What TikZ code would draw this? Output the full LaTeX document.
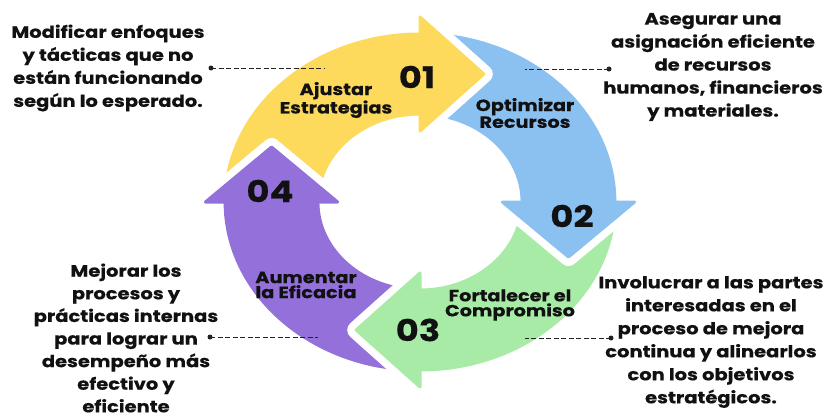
\documentclass[tikz,border=0pt]{standalone}
\usepackage{fontspec}
\setmainfont{Poppins}[FakeStretch=1.18, BoldFeatures={FakeBold=0.35}]
\definecolor{cyellow}{HTML}{FDD95C}
\definecolor{cblue}{HTML}{8BC1F1}
\definecolor{cgreen}{HTML}{A8EBA6}
\definecolor{cpurple}{HTML}{9470DA}
\definecolor{txt}{HTML}{111111}
\definecolor{lnc}{HTML}{222222}
\begin{document}
\begin{tikzpicture}[x=1pt,y=-1pt,
  side/.style={font=\fontsize{16.5}{23}\selectfont\bfseries, align=center, text=txt, inner sep=0pt},
  lab/.style={font=\fontsize{16.3}{15}\selectfont\bfseries, align=center, text=txt, inner sep=0pt},
  num/.style={font=\fontsize{30}{30}\selectfont\bfseries, text=txt, inner sep=0pt},
  conn/.style={draw=lnc, line width=1pt, dash pattern=on 5pt off 2.5pt},
  dotn/.style={circle, fill=lnc, inner sep=0pt, minimum size=5pt},
  arr/.style={fill=#1, draw=#1, line width=3pt, line join=round,
    preaction={draw=white, line width=18pt, line join=round}}
]
\useasboundingbox (0,0) rectangle (828,418);
\fill[white] (0,0) rectangle (828,418);

\begin{scope}[shift={(420,202)}, xscale=1.16, yscale=-1]
  % yellow
  \path[arr=cyellow] (180:168) arc[start angle=180, end angle=90, radius=168]
    -- (0,185) -- (55,128) -- (0,71) -- (90:88)
    arc[start angle=90, end angle=180, radius=88] -- cycle;
  % purple
  \path[arr=cpurple] (-90:168) arc[start angle=-90, end angle=-180, radius=168]
    -- (-185,0) -- (-128,55) -- (-71,0) -- (180:88)
    arc[start angle=180, end angle=270, radius=88] -- cycle;
  % green
  \path[arr=cgreen] (0:168) arc[start angle=0, end angle=-90, radius=168]
    -- (0,-185) -- (-55,-128) -- (0,-71) -- (-90:88)
    arc[start angle=-90, end angle=0, radius=88] -- cycle;
  % blue
  \path[arr=cblue] (90:168) arc[start angle=90, end angle=0, radius=168]
    -- (185,0) -- (128,-55) -- (71,0) -- (0:88)
    arc[start angle=0, end angle=90, radius=88] -- cycle;
  % yellow head again, above blue tail
  \begin{scope}
    \clip (-20,40) rectangle (90,210);
    \path[arr=cyellow] (180:168) arc[start angle=180, end angle=90, radius=168]
      -- (0,185) -- (55,128) -- (0,71) -- (90:88)
      arc[start angle=90, end angle=180, radius=88] -- cycle;
  \end{scope}
\end{scope}

% labels in arrows
\node[lab] (l1) at (336,100) {Ajustar\\Estrategias};
\node[lab] (l2) at (525,113) {Optimizar\\Recursos};
\node[lab] (l3) at (510,305) {Fortalecer el\\Compromiso};
\node[lab] (l4) at (306,285) {Aumentar\\la Eficacia};
\node[num] (n1) at (417,77) {01};
\node[num] (n2) at (572,216) {02};
\node[num] (n3) at (418,330) {03};
\node[num] (n4) at (270,191) {04};

% side texts
\node[side] (t1) at (108,68) {Modificar enfoques\\y tácticas que no\\están funcionando\\según lo esperado.};
\node[side] (t2) at (713,67) {Asegurar una\\asignación eficiente\\de recursos\\humanos, financieros\\y materiales.};
\node[side, font=\fontsize{16.5}{22.6}\selectfont\bfseries] (t3) at (126,338) {Mejorar los\\procesos y\\prácticas internas\\para lograr un\\desempeño más\\efectivo y\\eficiente};
\node[side] (t4) at (711,342) {Involucrar a las partes\\interesadas en el\\proceso de mejora\\continua y alinearlos\\con los objetivos\\estratégicos.};

% connectors
\node[dotn] (d1) at (211,68) {};
\coordinate (e1) at (325,68);
\node[dotn] (d2) at (609,69) {};
\coordinate (e2) at (525,69);
\node[dotn] (d3) at (210,337) {};
\coordinate (e3) at (318,337);
\node[dotn] (d4) at (611,338) {};
\coordinate (e4) at (525,338);
\draw[conn] (d1.center) -- (e1);
\draw[conn] (d2.center) -- (e2);
\draw[conn] (d3.center) -- (e3);
\draw[conn] (d4.center) -- (e4);
\end{tikzpicture}
\end{document}
